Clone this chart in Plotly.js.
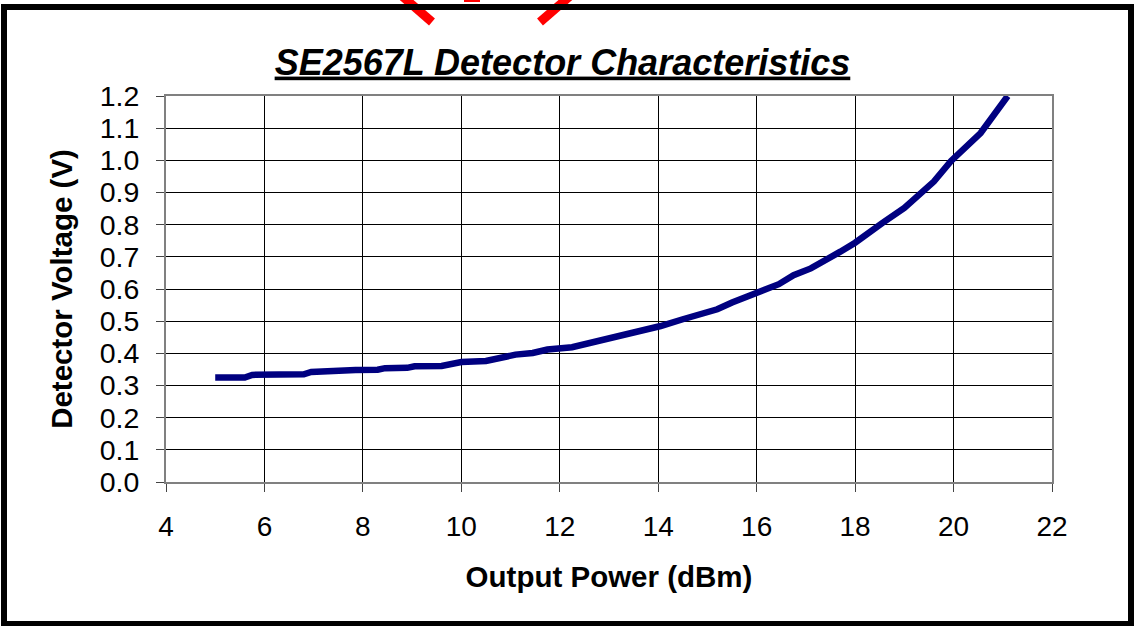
<!DOCTYPE html>
<html>
<head>
<meta charset="utf-8">
<script src="https://cdn.plot.ly/plotly-3.0.1.min.js"></script>
<style>
html, body { margin: 0; padding: 0; background: #fff; overflow: hidden; }
#chart { position: absolute; left: 0; top: 0; width: 1134px; height: 626px; }
#frame { position: absolute; left: 1px; top: 4px; width: 1133px; height: 623px;
  border: 6px solid #000; box-sizing: border-box; pointer-events: none; }
</style>
</head>
<body>
<div id="chart"></div>
<div id="frame"></div>
<script>
// Output power (dBm)
const outputPower = [5.0, 5.6, 5.75, 6.8, 6.95, 7.7, 7.85, 8.3, 8.45, 8.9, 9.05, 9.6,
  10.0, 10.5, 11.1, 11.45, 11.75, 12.25, 12.95, 13.1, 13.4, 13.7, 14.05, 14.5, 14.85,
  15.2, 15.5, 15.85, 16.1, 16.45, 16.75, 17.1, 17.7, 18.0, 18.55, 19.0, 19.6, 19.95,
  20.55, 21.1];
// Detector voltage (V)
const detectorVoltage = [0.325, 0.325, 0.333, 0.335, 0.342, 0.343, 0.348, 0.349, 0.354,
  0.355, 0.360, 0.361, 0.373, 0.376, 0.396, 0.401, 0.412, 0.419, 0.445, 0.446, 0.461,
  0.469, 0.485, 0.506, 0.521, 0.537, 0.558, 0.580, 0.592, 0.615, 0.643, 0.664, 0.716,
  0.744, 0.805, 0.852, 0.934, 0.998, 1.085, 1.2];

const chartTitle = 'SE2567L Detector Characteristics';
const xTitle = 'Output Power (dBm)';
const yTitle = 'Detector Voltage (V)';

const FONT = 'Liberation Sans, Arial, Helvetica, sans-serif';
const W = 1134, H = 626;
const M = {l: 166, r: 82, t: 96, b: 144};
const PW = W - M.l - M.r, PH = H - M.t - M.b;
function px(x) { return (x - M.l) / PW; }
function py(y) { return (H - M.b - y) / PH; }

// partial red watermark strokes at the top edge (decoration)
const red = 'rgb(255,0,0)';
const shapes = [
  {type: 'line', xref: 'paper', yref: 'paper', x0: px(402), y0: py(-4), x1: px(432), y1: py(22), line: {color: red, width: 9}, layer: 'below'},
  {type: 'line', xref: 'paper', yref: 'paper', x0: px(570), y0: py(-4), x1: px(540), y1: py(22), line: {color: red, width: 9}, layer: 'below'},
  {type: 'line', xref: 'paper', yref: 'paper', x0: px(464), y0: py(-1), x1: px(480), y1: py(-1), line: {color: red, width: 6}, layer: 'below'}
];

const trace = {
  x: outputPower, y: detectorVoltage, type: 'scatter', mode: 'lines',
  line: {color: '#000080', width: 6.5}, showlegend: false, cliponaxis: true
};

const layout = {
  width: W, height: H,
  margin: M,
  paper_bgcolor: '#fff', plot_bgcolor: '#fff',
  font: {family: FONT, color: '#000'},
  title: {
    text: '<b><i><u>' + chartTitle + '</u></i></b>',
    font: {family: FONT, size: 36, color: '#000'},
    xref: 'container', x: 0.496, xanchor: 'center',
    yref: 'container', y: 1 - 62 / H, yanchor: 'middle'
  },
  xaxis: {
    range: [4, 22], dtick: 2, tick0: 4,
    showgrid: true, gridcolor: '#000', gridwidth: 1,
    zeroline: false,
    showline: true, linecolor: '#808080', linewidth: 2, mirror: true,
    ticks: 'outside', ticklen: 8, tickcolor: '#444', tickwidth: 1,
    tickfont: {family: FONT, size: 28, color: '#000'},
    ticklabelstandoff: 10,
    title: {text: '<b>' + xTitle + '</b>', font: {family: FONT, size: 29.5, color: '#000'}, standoff: 26}
  },
  yaxis: {
    range: [0, 1.2], dtick: 0.1, tick0: 0, tickformat: '.1f',
    showgrid: true, gridcolor: '#000', gridwidth: 1,
    zeroline: false,
    showline: true, linecolor: '#808080', linewidth: 2, mirror: true,
    ticks: 'outside', ticklen: 8, tickcolor: '#444', tickwidth: 1,
    tickfont: {family: FONT, size: 28.5, color: '#000'},
    ticklabelstandoff: 11,
    title: {text: '<b>' + yTitle + '</b>', font: {family: FONT, size: 29.5, color: '#000'}, standoff: 18}
  },
  shapes: shapes
};

Plotly.newPlot('chart', [trace], layout, {displayModeBar: false, staticPlot: true});
</script>
</body>
</html>
